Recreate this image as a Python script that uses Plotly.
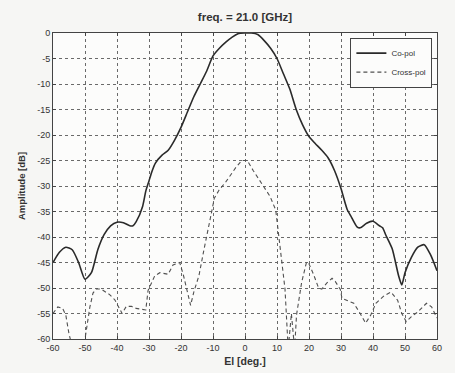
import plotly.graph_objects as go

# Co-polar pattern (solid)
el_co = [-60, -58, -56, -54, -52, -50, -48, -46, -44, -42,
         -40, -38, -36, -35, -34, -32, -31, -30, -29, -28,
         -26, -24, -22, -20, -18, -16, -14, -12, -10, -8,
         -6, -4, -2, 0, 2, 4, 6, 8, 10, 12,
         14, 16, 18, 20, 22, 24, 26, 28, 30, 31,
         32, 33, 35, 36, 38, 40, 42, 43, 44, 46,
         48, 49, 50, 52, 54, 56, 58, 60]
amp_co = [-45, -43, -42, -42.5, -45, -48.3, -47, -42.5, -39.5, -37.8,
          -37.1, -37.2, -37.8, -37.8, -37, -34, -31, -29, -27, -25.5,
          -24, -23, -21, -18.5, -15.5, -12.5, -10, -7.5, -4.5, -3,
          -1.8, -0.8, -0.1, 0, 0, -0.3, -1.5, -3, -5, -8,
          -11, -15, -18, -20.3, -21.7, -23, -24.5, -27, -30.5, -32.7,
          -34.7, -35.8, -38, -38.2, -37.3, -36.9, -37.8, -38.2, -39.6, -42.3,
          -47.6, -49.4, -47, -44, -42, -41.5, -43.5, -46.6]

# Cross-polar pattern (dashed)
el_x = [-60, -58.5, -57, -56, -55, -54, -53, -50, -49.5, -48.5,
        -47.5, -46.5, -45, -42.3, -40.7, -39.7, -38.4, -37.1, -35.5, -34,
        -31, -30.3, -29.3, -28.2, -26.6, -24, -22.5, -20.4, -19.2, -18.1,
        -17, -16, -14.4, -12.8, -11.2, -10.4, -9.6, -8.1, -6, -2.9,
        -1, 0.7, 2.6, 5.2, 7.8, 9.6, 10.4, 11.4, 12.5, 13.5,
        14.5, 15.5, 16.1, 17.7, 19.2, 19.8, 21.4, 23, 24, 25.6,
        27.2, 28.2, 29.8, 30.3, 31.9, 34, 36, 37.7, 39.3, 40.9,
        43.5, 45.6, 47.7, 49, 50.4, 52, 54, 56.7, 58.3, 60]
amp_x = [-55, -53.7, -54, -55.3, -59, -62, -64, -60, -57.7, -53.8,
         -51, -50.2, -50.2, -51.3, -52.3, -53.6, -55, -53.6, -53.6, -54,
         -54.3, -50.5, -49.2, -47.6, -47, -47.3, -45.5, -45, -47.6, -50.8,
         -53.4, -50.8, -47.6, -42.4, -37.9, -35, -32.4, -30.8, -29.2, -26.4,
         -25, -25, -27, -29.5, -32, -34.7, -39.2, -44.4, -50.2, -62,
         -55, -62, -55.3, -48.9, -45, -45, -47.3, -50, -50.2, -49,
         -48.1, -48.7, -50.3, -52, -52.4, -53, -55, -56.9, -55.3, -53,
         -51.5, -50.8, -52.4, -55, -56.6, -55.6, -54.7, -53, -53.7, -55.9]

x_ticks = list(range(-60, 61, 10))
y_ticks = list(range(-60, 1, 5))

FONT = "Liberation Sans, Arial"

fig = go.Figure()
fig.add_trace(go.Scatter(x=el_co, y=amp_co, mode="lines", name="Co-pol",
                         line=dict(color="#2a2a2a", width=1.6, shape="spline", smoothing=0.6)))
fig.add_trace(go.Scatter(x=el_x, y=amp_x, mode="lines", name="Cross-pol",
                         line=dict(color="#505050", width=1.1, dash="4px,3px")))

axis_common = dict(showline=True, linecolor="#444444", linewidth=1, mirror="ticks",
                   ticks="inside", ticklen=3, tickcolor="#444444",
                   showgrid=True, gridcolor="#6a6a6a", gridwidth=1, griddash="3px,3px",
                   zeroline=False,
                   tickfont=dict(family=FONT, size=9, color="#333333"))

fig.update_xaxes(range=[-60, 60], tickvals=x_ticks, ticktext=[str(v) for v in x_ticks],
                 title=dict(text="<b>El [deg.]</b>", font=dict(family=FONT, size=10.5, color="#333333"), standoff=5),
                 **axis_common)
fig.update_yaxes(range=[-60, 0], tickvals=y_ticks, ticktext=[str(v) for v in y_ticks],
                 title=dict(text="<b>Amplitude [dB]</b>", font=dict(family=FONT, size=9.5, color="#333333"), standoff=9),
                 **axis_common)

fig.update_layout(
    width=455, height=373,
    margin=dict(l=53, r=18, t=33, b=34, autoexpand=False),
    paper_bgcolor="#f6f6f4", plot_bgcolor="#fcfcfb",
    title=dict(text="<b>freq. = 21.0 [GHz]</b>", x=0.5, xref="paper", y=0.955, yanchor="middle",
               font=dict(family=FONT, size=11.5, color="#333333")),
    legend=dict(x=0.988, xanchor="right", y=0.985, yanchor="top",
                bgcolor="#fcfcfb", bordercolor="#444444", borderwidth=1,
                font=dict(family=FONT, size=8, color="#333333"),
                tracegroupgap=0, itemwidth=30),
    showlegend=True,
)

fig.write_html("out.html", config={"displayModeBar": False},
               post_script="document.body.style.margin='0';")
